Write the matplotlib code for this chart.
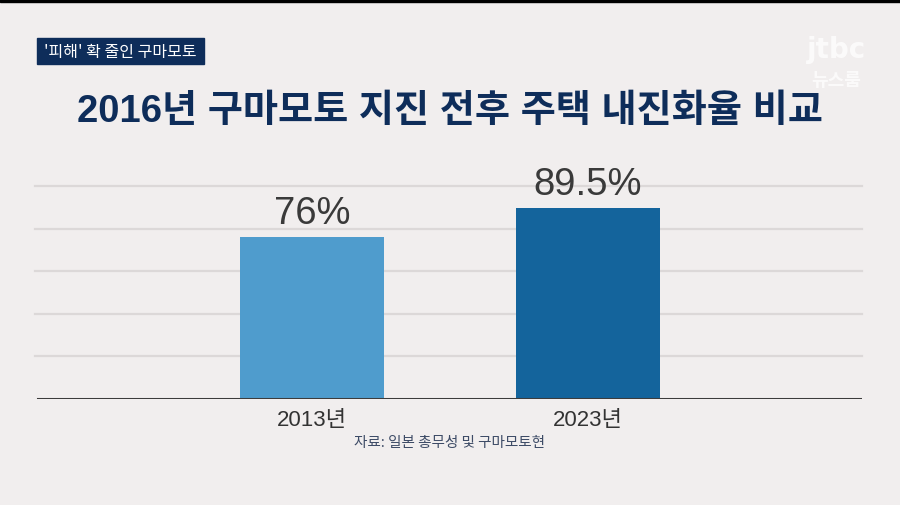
import matplotlib.pyplot as plt
from matplotlib.patches import Rectangle

plt.rcParams['font.family'] = ['Noto Sans CJK KR', 'DejaVu Sans']

# 데이터
years = ['2013년', '2023년']
rates = [76, 89.5]
rate_labels = ['76%', '89.5%']
bar_colors = ['#4f9ccd', '#14649c']
grid_ticks = [20, 40, 60, 80, 100]

bg = '#f1eeee'
navy = '#0e2d5a'
latin_kr = ['Liberation Sans', 'Noto Sans CJK KR']

fig = plt.figure(figsize=(9, 5.06), dpi=100)
fig.patch.set_facecolor(bg)

# 위쪽 검은 띠
fig.patches.append(Rectangle((0, 1 - 3/506), 1, 3/506, transform=fig.transFigure,
                             color='black', zorder=5))

# 왼쪽 위 라벨 상자
fig.patches.append(Rectangle((37/900, 1 - 65/506), 167/900, 26/506,
                             transform=fig.transFigure, color=navy))
fig.text(120/900, 1 - 52/506, "'피해' 확 줄인 구마모토", color='white',
         fontsize=11.5, ha='center', va='center')

# jtbc 로고
fig.text(836/900, 1 - 50/506, 'jtbc', color='white', alpha=0.75, fontsize=20,
         fontweight='bold', ha='center', va='center', family='DejaVu Sans')
fig.text(836/900, 1 - 80/506, '뉴스룸', color='white', alpha=0.75, fontsize=13,
         fontweight='bold', ha='center', va='center')

# 제목
fig.text(450/900, 1 - 112/506, '2016년 구마모토 지진 전후 주택 내진화율 비교',
         color=navy, fontsize=27.5, fontweight='bold', ha='center', va='center',
         family=latin_kr)

ax = fig.add_axes([35/900, 106/506, 827/900, 213/506])
ax.set_facecolor(bg)
x = [0, 1]
bars = ax.bar(x, rates, width=0.522, color=bar_colors, zorder=3)
ax.set_xlim(-1.004, 1.993)
ax.set_ylim(0, 100)

for t in grid_ticks:
    ax.axhline(t, color='#dcd8d8', linewidth=1.6, zorder=1, clip_on=False)
ax.axhline(0, xmin=3/827, xmax=1, color='#3c3c3c', linewidth=2.2, zorder=4)

for xi, r, lab in zip(x, rates, rate_labels):
    ax.text(xi, r + 2.8, lab, ha='center', va='bottom', fontsize=27.5,
            color='#3a3a3a', family='Liberation Sans')

for s in ax.spines.values():
    s.set_visible(False)
ax.set_yticks([])
ax.set_xticks(x)
ax.set_xticklabels(years, fontsize=16, color='#333333', family=latin_kr)
ax.tick_params(axis='x', length=0, pad=7)

fig.text(450/900, 1 - 443/506, '자료: 일본 총무성 및 구마모토현', color='#3d4b66',
         fontsize=10.5, ha='center', va='center')

fig.savefig('out.png', dpi=100, facecolor=bg)
